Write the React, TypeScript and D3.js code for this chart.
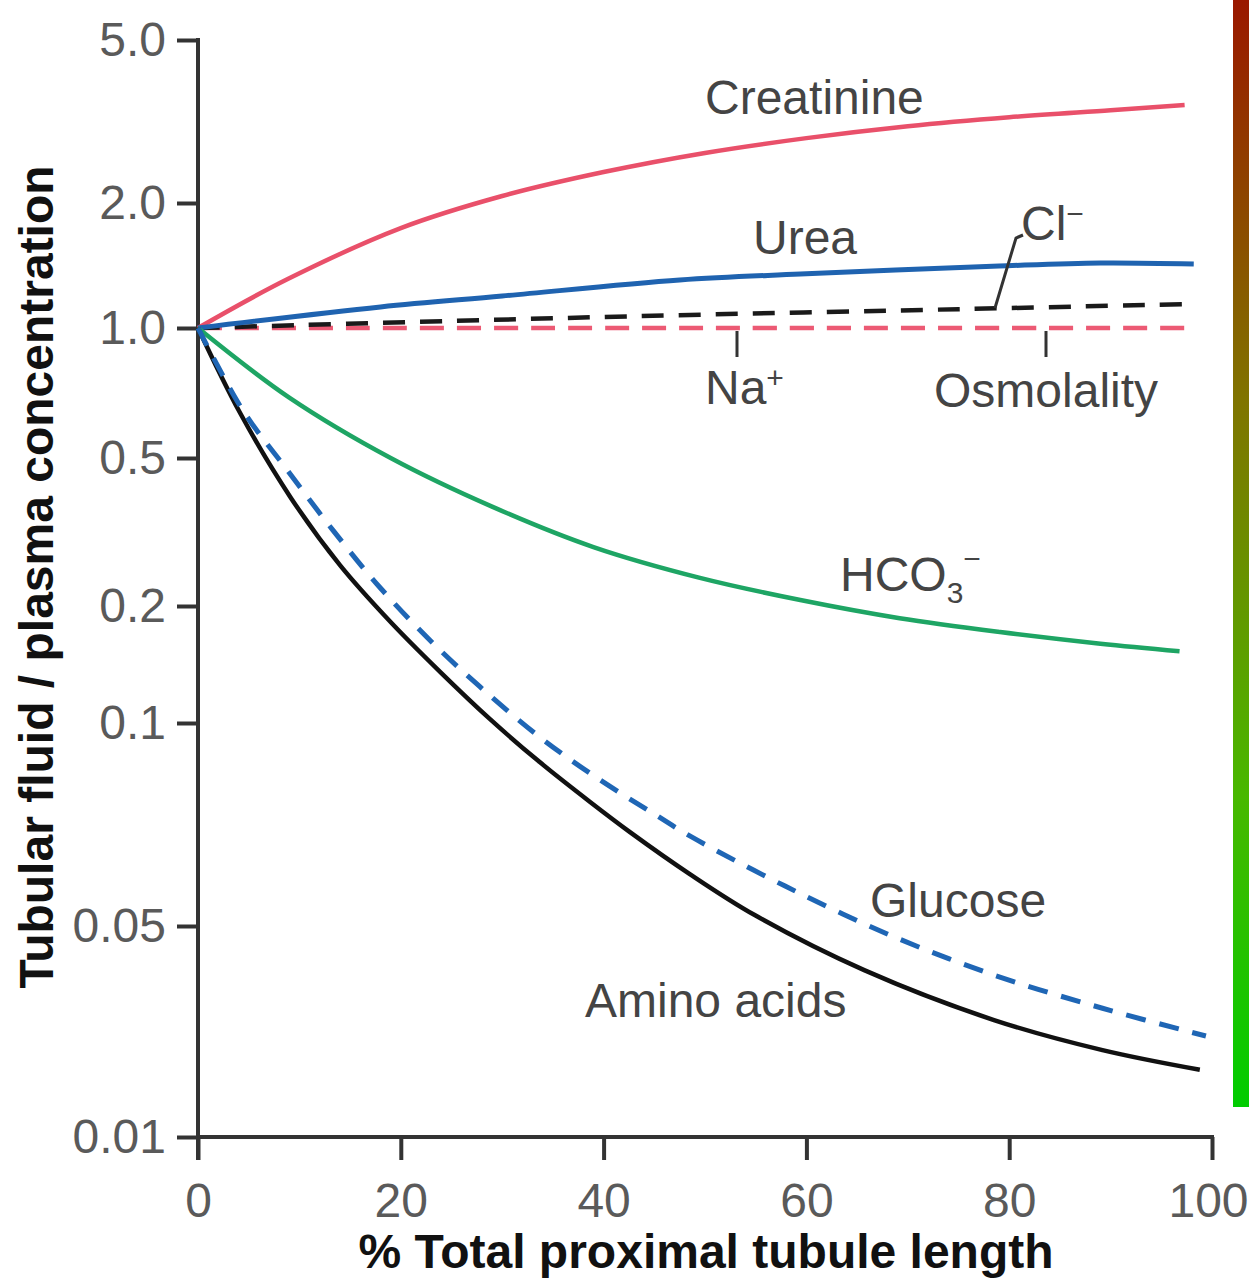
import React, { useEffect, useRef } from 'react';
import * as d3 from 'd3';

const W = 1249;
const H = 1283;

const xTicks = [0, 20, 40, 60, 80, 100];
const yTicks = [0.01, 0.05, 0.1, 0.2, 0.5, 1, 2, 5];
const yTickLabels = ['0.01', '0.05', '0.1', '0.2', '0.5', '1.0', '2.0', '5.0'];

// [% of tubule length, TF/P ratio]
const creatinine: [number, number][] = [
  [0, 1.0], [8.8, 1.31], [20, 1.74], [30, 2.08], [40, 2.38], [50, 2.65],
  [60, 2.88], [70, 3.08], [80, 3.24], [90, 3.37], [97.3, 3.47],
];
const urea: [number, number][] = [
  [0, 1.0], [18, 1.124], [30, 1.194], [47.5, 1.305], [59.4, 1.349],
  [79, 1.41], [89, 1.434], [98.2, 1.426],
];
const chloride: [number, number][] = [
  [0, 1.0], [25, 1.04], [48.5, 1.075], [75, 1.11], [93.6, 1.136], [98.3, 1.142],
];
const osmolality: [number, number][] = [[0, 1.0], [50, 1.0], [98.3, 1.0]];
const bicarbonate: [number, number][] = [
  [0, 1.0], [9, 0.69], [19, 0.5], [29, 0.37], [39, 0.288], [49.5, 0.238],
  [59.4, 0.2075], [69.2, 0.186], [79.1, 0.1714], [89, 0.16], [96.8, 0.153],
];
const glucose: [number, number][] = [
  [0, 1.0], [4.4, 0.646], [8.8, 0.464], [13.3, 0.32], [17.9, 0.225],
  [22.9, 0.163], [27.8, 0.124], [33.7, 0.0953], [39.3, 0.083], [45.3, 0.0728],
  [48.5, 0.068], [57.9, 0.0573], [68.2, 0.0467], [78.5, 0.0344],
  [89.2, 0.0267], [99.4, 0.0216],
];
const aminoAcids: [number, number][] = [
  [0, 1.0], [4.1, 0.639], [9.1, 0.393], [14, 0.2576], [18.9, 0.183],
  [23.9, 0.1352], [28.8, 0.1023], [33.7, 0.0875], [38.7, 0.0763],
  [42.6, 0.0689], [48.5, 0.0597], [54.9, 0.0519], [65.7, 0.0357], [78.5, 0.0244],
  [89.2, 0.0194], [98.8, 0.0167],
];

const FONT = '"Liberation Sans", Arial, Helvetica, sans-serif';

const App = () => {
  const svgRef = useRef<SVGSVGElement | null>(null);

  useEffect(() => {
    drawChart();
  }, []);

  const drawChart = () => {
    const svg = d3.select(svgRef.current).attr('width', W).attr('height', H);
    svg.selectAll('*').remove();

    svg.append('rect').attr('width', W).attr('height', H).attr('fill', '#fff');

    // the coloured strip down the right edge of the scan
    const grad = svg.append('defs').append('linearGradient')
      .attr('id', 'strip').attr('x1', 0).attr('y1', 0).attr('x2', 0).attr('y2', 1);
    [['0', '#9a1800'], ['0.36', '#807400'], ['0.72', '#48b800'], ['1', '#00cc00']]
      .forEach(([o, c]) => grad.append('stop').attr('offset', o).attr('stop-color', c));
    svg.append('rect').attr('x', 1233).attr('y', 0).attr('width', 16).attr('height', 1107)
      .attr('fill', 'url(#strip)');

    const x = d3.scaleLinear().domain([0, 100]).range([198, 1212]);
    // the printed axis is not an even log scale, so map it piece by piece
    const y = d3.scaleLog().domain(yTicks).range([1137, 926, 723, 606, 458, 328, 203, 40]);

    const axisColor = '#333';

    const yAxis = d3.axisLeft(y)
      .tickValues(yTicks)
      .tickSize(21)
      .tickPadding(11)
      .tickFormat((d, i) => yTickLabels[i]);
    const gy = svg.append('g').attr('transform', 'translate(198,0)').call(yAxis as any);
    gy.select('.domain').remove();

    const xAxis = d3.axisBottom(x)
      .tickValues(xTicks)
      .tickSize(23)
      .tickPadding(23)
      .tickFormat(d => String(d));
    const gx = svg.append('g').attr('transform', 'translate(0,1137)').call(xAxis as any);
    gx.select('.domain').remove();
    // last label sits against the page edge
    gx.selectAll('text').filter((d: any) => d === 100).attr('dx', -4);

    [gy, gx].forEach(g => {
      g.attr('font-family', FONT).attr('font-size', 48);
      g.selectAll('line').attr('stroke', axisColor).attr('stroke-width', 4);
      g.selectAll('text').attr('fill', '#5a5a5a');
    });

    svg.append('line').attr('x1', 198).attr('x2', 198).attr('y1', 38).attr('y2', 1160)
      .attr('stroke', axisColor).attr('stroke-width', 4);
    svg.append('line').attr('x1', 196).attr('x2', 1214).attr('y1', 1137).attr('y2', 1137)
      .attr('stroke', axisColor).attr('stroke-width', 4);

    const line = d3.line<[number, number]>()
      .x(d => x(d[0]))
      .y(d => y(d[1]))
      .curve(d3.curveCatmullRom.alpha(0.5));

    const series = [
      { data: osmolality, color: '#ec5a74', dash: '24 13', width: 4.5 },
      { data: chloride, color: '#1a1a1a', dash: '22 15', width: 4.5 },
      { data: creatinine, color: '#e9506a', dash: null, width: 4.5 },
      { data: urea, color: '#1f63b0', dash: null, width: 5 },
      { data: bicarbonate, color: '#1ea564', dash: null, width: 4.5 },
      { data: aminoAcids, color: '#111', dash: null, width: 4.5 },
      { data: glucose, color: '#1f66b5', dash: '20 14', width: 5 },
    ];

    svg.append('g').selectAll('path')
      .data(series)
      .join('path')
      .attr('d', d => line(d.data))
      .attr('fill', 'none')
      .attr('stroke', d => d.color)
      .attr('stroke-width', d => d.width)
      .attr('stroke-dasharray', d => d.dash)
      .attr('stroke-linecap', 'butt');

    // leader lines
    const leaders = svg.append('g').attr('stroke', '#333').attr('stroke-width', 3).attr('fill', 'none');
    leaders.append('path').attr('d', 'M995,308 L1016,238 L1023,235');
    leaders.append('line').attr('x1', 737).attr('x2', 737).attr('y1', 331).attr('y2', 357);
    leaders.append('line').attr('x1', 1046).attr('x2', 1046).attr('y1', 331).attr('y2', 357);

    const labels = svg.append('g').attr('font-family', FONT).attr('font-size', 48).attr('fill', '#444');
    labels.append('text').attr('x', 705).attr('y', 114).text('Creatinine');
    labels.append('text').attr('x', 753).attr('y', 254).text('Urea');
    const cl = labels.append('text').attr('x', 1021).attr('y', 240);
    cl.append('tspan').text('Cl');
    cl.append('tspan').attr('font-size', 30).attr('dy', -16).text('\u2212');
    const na = labels.append('text').attr('x', 705).attr('y', 404);
    na.append('tspan').text('Na');
    na.append('tspan').attr('font-size', 30).attr('dy', -16).text('+');
    labels.append('text').attr('x', 934).attr('y', 407).text('Osmolality');
    const hco = labels.append('text').attr('x', 840).attr('y', 591);
    hco.append('tspan').text('HCO');
    hco.append('tspan').attr('font-size', 30).attr('dy', 12).text('3');
    hco.append('tspan').attr('font-size', 30).attr('dy', -34).text('\u2212');
    labels.append('text').attr('x', 870).attr('y', 917).text('Glucose');
    labels.append('text').attr('x', 585).attr('y', 1017).text('Amino acids');

    svg.append('text')
      .attr('x', 706).attr('y', 1268)
      .attr('text-anchor', 'middle')
      .attr('font-family', FONT).attr('font-size', 48).attr('font-weight', 'bold')
      .attr('fill', '#111')
      .text('% Total proximal tubule length');

    svg.append('text')
      .attr('transform', 'translate(53,577) rotate(-90)')
      .attr('text-anchor', 'middle')
      .attr('font-family', FONT).attr('font-size', 48).attr('font-weight', 'bold')
      .attr('fill', '#111')
      .text('Tubular fluid / plasma concentration');
  };

  return (
    <div style={{ position: 'absolute', left: 0, top: 0 }}>
      <svg ref={svgRef} style={{ display: 'block' }}></svg>
    </div>
  );
};

export default App;
